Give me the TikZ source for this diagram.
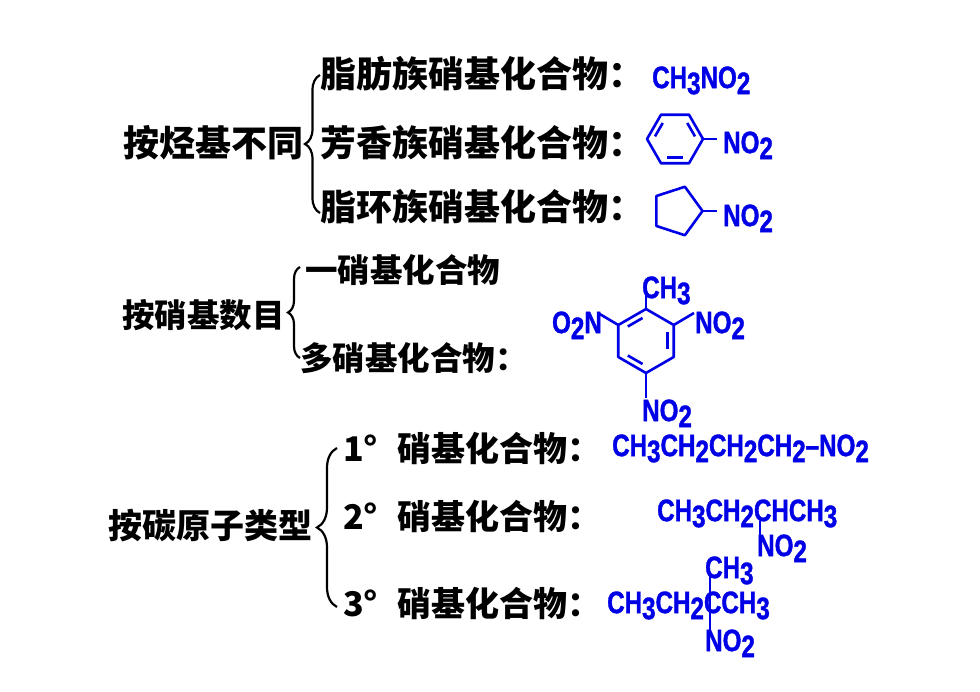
\documentclass[tikz,border=0pt]{standalone}
\usepackage{fontspec}
\setmainfont{Noto Sans CJK SC}
\newfontfamily\chemfont{Liberation Sans}[FakeStretch=0.78,FakeBold=1.2]
\usetikzlibrary{calc,decorations.pathreplacing}
\definecolor{chemblue}{RGB}{0,0,230}
\newcommand{\dn}[1]{\raisebox{-6pt}{#1}}

\begin{document}
\begin{tikzpicture}[x=1pt,y=-1pt,
    cat/.style={anchor=base west,inner sep=0pt},
    txtA/.style={font=\bfseries\fontsize{36}{40}\selectfont},
    txtB/.style={font=\bfseries\fontsize{32.5}{36}\selectfont},
    txtC/.style={font=\bfseries\fontsize{34}{38}\selectfont},
    chem/.style={anchor=base west,inner sep=0pt,text=chemblue,font=\chemfont\bfseries\fontsize{31}{32}\selectfont},
    ring/.style={draw=chemblue,line width=2.6pt,line join=round},
    sortbrace/.style={decorate,decoration={brace,amplitude=#1},line width=2.2pt}]
    \fill[white] (0,0) rectangle (980,692);
    \useasboundingbox (0,0) rectangle (980,692);

    % by hydrocarbon group
    \node[cat,txtA] (hydro) at (123,156.7) {按烃基不同};
    \draw[sortbrace=15pt] (320,213) -- (320,75);
    \node[cat,txtA] (aliph) at (320,87.7) {脂肪族硝基化合物：};
    \node[cat,txtA] (arom) at (320,156.7) {芳香族硝基化合物：};
    \node[cat,txtA] (alicy) at (320,220.7) {脂环族硝基化合物：};
    \node[chem] (nitromethane) at (652,88.1) {CH\dn{3}NO\dn{2}};

    \coordinate (bz) at (675,139);
    \coordinate (bzend) at (717,139);
    \draw[ring] ([shift={(0:28)}]bz) \foreach \a in {60,120,...,300} {-- ([shift={(\a:28)}]bz)} -- cycle;
    \foreach \a/\b in {180/240,300/360,60/120}
        \draw[ring,shorten <=3pt,shorten >=3pt] ([shift={(\a:21.5)}]bz) -- ([shift={(\b:21.5)}]bz);
    \draw[ring] ([shift={(0:28)}]bz) -- (bzend);
    \node[chem] (bzno) at (723,153.1) {NO\dn{2}};

    \coordinate (cp) at (677,211);
    \coordinate (cpend) at (717,211);
    \draw[ring] ([shift={(0:25.5)}]cp) \foreach \a in {72,144,...,288} {-- ([shift={(\a:25.5)}]cp)} -- cycle;
    \draw[ring] ([shift={(0:25.5)}]cp) -- (cpend);
    \node[chem] (cpno) at (723,226.1) {NO\dn{2}};

    % by number of nitro groups
    \node[cat,txtB] (count) at (122,327.5) {按硝基数目};
    \draw[sortbrace=12pt] (300,358) -- (300,267);
    \node[cat,txtB] (mono) at (305,282.5) {一硝基化合物};
    \node[cat,txtB] (poly) at (300,370.5) {多硝基化合物：};

    \coordinate (tnt) at (646,341);
    \coordinate (tntme) at (646,280);
    \coordinate (tntr) at (694,313);
    \coordinate (tntl) at (598,313);
    \coordinate (tntb) at (646,398);
    \draw[ring] ([shift={(270:32)}]tnt) \foreach \a in {330,30,90,150,210} {-- ([shift={(\a:32)}]tnt)} -- cycle;
    \foreach \a/\b in {210/270,330/390,90/150}
        \draw[ring,shorten <=4pt,shorten >=4pt] ([shift={(\a:25)}]tnt) -- ([shift={(\b:25)}]tnt);
    \foreach \a/\e in {270/tntme,330/tntr,210/tntl,90/tntb}
        \draw[ring] ([shift={(\a:32)}]tnt) -- (\e);
    \node[chem] (tntch) at (642,298.1) {CH\dn{3}};
    \node[chem] (tntno) at (695,333.1) {NO\dn{2}};
    \node[chem,anchor=base east] (tnton) at (602,333.1) {O\dn{2}N};
    \node[chem] (tntbn) at (642,421.1) {NO\dn{2}};

    % by carbon type
    \node[cat,txtC] (carbon) at (108,538) {按碳原子类型};
    \draw[sortbrace=20pt] (337,607) -- (337,448);
    \node[cat,txtC] (prim) at (343,461) {\makebox[54pt][l]{1°}硝基化合物：};
    \node[cat,txtC] (secd) at (343,529) {\makebox[54pt][l]{2°}硝基化合物：};
    \node[cat,txtC] (tert) at (343,616) {\makebox[54pt][l]{3°}硝基化合物：};

    \node[chem] (nbutane) at (612,456.1) {CH\dn{3}CH\dn{2}CH\dn{2}CH\dn{2}–NO\dn{2}};

    \coordinate (b2top) at (760,521);
    \coordinate (b2bot) at (760,536);
    \node[chem] (butan) at (657,521.1) {CH\dn{3}CH\dn{2}CHCH\dn{3}};
    \node[chem] (butanno) at (757,556.1) {NO\dn{2}};
    \draw[ring] (b2top) -- (b2bot);

    \coordinate (b3top) at (710,572);
    \coordinate (b3bot) at (710,630);
    \node[chem] (mbutme) at (705,578.1) {CH\dn{3}};
    \node[chem] (mbut) at (607,613.1) {CH\dn{3}CH\dn{2}CCH\dn{3}};
    \node[chem] (mbutno) at (705,651.1) {NO\dn{2}};
    \draw[ring] (b3top) -- (b3bot);
\end{tikzpicture}
\end{document}
